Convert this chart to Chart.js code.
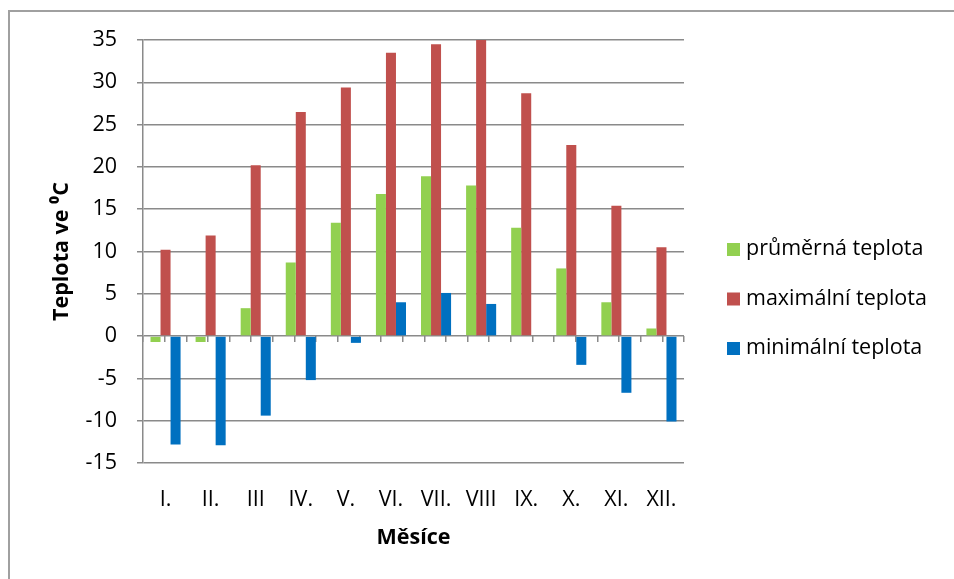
<!DOCTYPE html>
<html>
<head>
<meta charset="utf-8">
<script src="https://cdn.jsdelivr.net/npm/chart.js@4.4.0/dist/chart.umd.min.js"></script>
<style>
  html, body { margin: 0; padding: 0; background: #fff; }
  #wrap { position: relative; width: 954px; height: 579px; overflow: hidden; }
  #frame { position: absolute; left: 8px; top: 10px; width: 1000px; height: 1000px;
           border-left: 2px solid #a0a0a0; border-top: 2px solid #a0a0a0; }
  #tempChart { position: absolute; left: 0; top: 0; }
</style>
</head>
<body>
<div id="wrap">
  <div id="frame"></div>
  <canvas id="tempChart" width="954" height="579"></canvas>
</div>
<script>
// months and temperatures
const months = ["I.", "II.", "III", "IV.", "V.", "VI.", "VII.", "VIII", "IX.", "X.", "XI.", "XII."];
const avgTemp = [-0.7, -0.7, 3.3, 8.7, 13.4, 16.8, 18.9, 17.8, 12.8, 8.0, 4.0, 0.9];
const maxTemp = [10.2, 11.9, 20.2, 26.5, 29.4, 33.5, 34.5, 35.0, 28.7, 22.6, 15.4, 10.5];
const minTemp = [-12.8, -12.9, -9.4, -5.2, -0.8, 4.0, 5.1, 3.8, 0, -3.4, -6.7, -10.1];
const seriesNames = ["průměrná teplota", "maximální teplota", "minimální teplota"];
const yTicks = [-15, -10, -5, 0, 5, 10, 15, 20, 25, 30, 35];

const FONT = "'Open Sans', Calibri, sans-serif";
const gridColor = "#8a8a8a";

// legend drawn by hand, Excel style on the right
const sideLegend = {
  id: "sideLegend",
  afterDraw(chart) {
    const ctx = chart.ctx;
    ctx.save();
    ctx.font = "21.5px " + FONT;
    ctx.textBaseline = "middle";
    ctx.textAlign = "left";
    chart.data.datasets.forEach((ds, i) => {
      const y = 249 + i * 49.5;
      ctx.fillStyle = ds.backgroundColor;
      ctx.fillRect(727, y - 6, 13, 13);
      ctx.fillStyle = "#000";
      ctx.fillText(ds.label, 746, y);
    });
    ctx.restore();
  },
};

const data = {
  labels: months,
  datasets: [
    { label: seriesNames[0], data: avgTemp, backgroundColor: "#92D050" },
    { label: seriesNames[1], data: maxTemp, backgroundColor: "#C0504D" },
    { label: seriesNames[2], data: minTemp, backgroundColor: "#0070C0" },
  ],
};

const options = {
  responsive: false,
  animation: false,
  layout: { padding: { top: 40, right: 270, left: 0, bottom: 0 } },
  datasets: { bar: { categoryPercentage: 0.667, barPercentage: 1.0, borderWidth: 0 } },
  plugins: { legend: { display: false }, tooltip: { enabled: false } },
  scales: {
    x: {
      type: "category",
      offset: true,
      grid: { display: false, drawTicks: false, offset: true },
      border: { display: false },
      ticks: { color: "#000", font: { family: FONT, size: 21.5 }, padding: 24, maxRotation: 0 },
      title: {
        display: true,
        text: "Měsíce",
        color: "#000",
        font: { family: FONT, size: 21.5, weight: "bold" },
        padding: { top: 0, bottom: 28 },
      },
      afterFit: (s) => { s.height = 116; },
    },
    // short tick marks on the zero line, every half month like Excel
    xZero: {
      type: "linear",
      position: { y: 0 },
      min: 0,
      max: 12,
      grid: { display: true, drawOnChartArea: false, drawTicks: true, tickLength: 6, color: gridColor, lineWidth: 1.5 },
      border: { display: false },
      ticks: { display: false, stepSize: 0.5 },
    },
    y: {
      min: -15,
      max: 35,
      afterBuildTicks: (s) => { s.ticks = yTicks.map((v) => ({ value: v })); },
      grid: { color: gridColor, lineWidth: 1.5, tickLength: 6 },
      border: { display: true, color: gridColor, width: 1.5 },
      ticks: { color: "#000", font: { family: FONT, size: 21.5 }, padding: 20 },
      title: {
        display: true,
        text: "Teplota ve ⁰C",
        color: "#000",
        font: { family: FONT, size: 21.5, weight: "bold" },
        padding: { top: 49, bottom: 0 },
      },
      afterFit: (s) => { s.width = 143; },
    },
  },
};

const ctx = document.getElementById("tempChart").getContext("2d");
const tempChart = new Chart(ctx, {
  type: "bar",
  data: data,
  options: options,
  plugins: [sideLegend],
});
</script>
</body>
</html>
